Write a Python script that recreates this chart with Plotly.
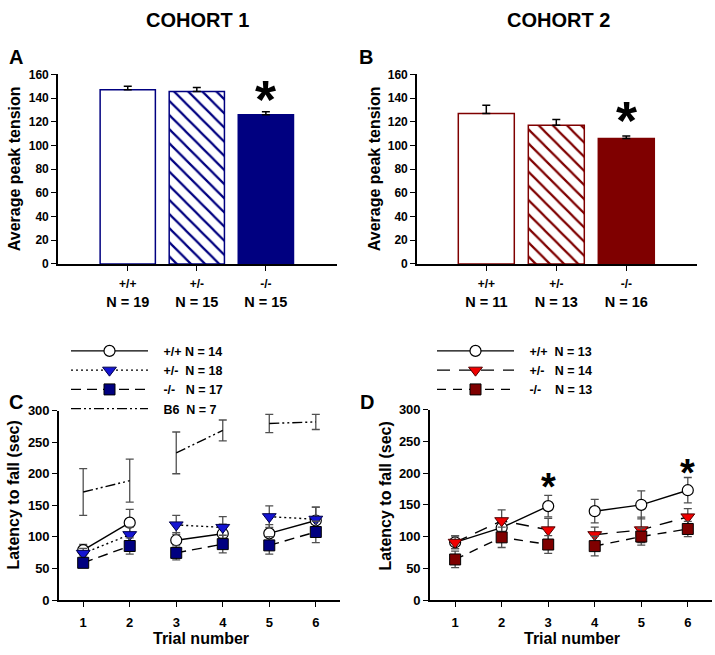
import plotly.graph_objects as go

# ---------------- data ----------------
genotypes = ["+/+", "+/-", "-/-"]
c1_n = [19, 15, 15]
c1_tension = [147, 145.5, 126]
c1_tension_err = [3, 3.5, 2.5]
c2_n = [11, 13, 16]
c2_tension = [127, 117, 106]
c2_tension_err = [7, 5, 2]

trials = [1, 2, 3, 4, 5, 6]
# Cohort 1 latency to fall (sec)
c1_wt = [79, 122.6, 94.8, 105, 105.6, 126]
c1_wt_err = [9, 21, 12, 15, 14, 21]
c1_het = [74, 103.6, 119, 115, 132, 128]
c1_het_err = [8, 12, 15, 17, 17, 19]
c1_ko = [59, 85.6, 74.7, 88.6, 86.6, 107.8]
c1_ko_err = [6, 13, 11, 14, 14, 17]
c1_b6 = [171, 189, 233, 268.5, 279.5, 282]
c1_b6_err = [37, 34, 33, 16.5, 14.5, 12]
c1_legend_n = [14, 18, 17, 7]
# Cohort 2 latency to fall (sec)
c2_wt = [91, 114, 148, 140, 150, 173]
c2_wt_err = [10, 14, 17, 18.5, 22, 20]
c2_het = [91, 125, 110.6, 103, 110.6, 131]
c2_het_err = [10, 17, 18, 12, 20, 13]
c2_ko = [64, 98.8, 87.5, 85, 100, 112]
c2_ko_err = [13, 16, 14, 15.5, 13.5, 12]
c2_legend_n = [13, 14, 13]

# significance asterisks (x position, y value)
sig_A = [(2, 143)]
sig_B = [(2, 124.5)]
sig_D = [(3, 195.6), (6, 217.6)]

# segments of connected trials (indices)
c1_segments = [[0, 1], [2, 3], [4, 5]]
c2_segments = [[0, 1, 2], [3, 4, 5]]

# ---------------- styles ----------------
W, H = 715, 655
NAVY = "#000080"
DRED = "#7f0000"
BLUE = "#1414d2"
RED = "#f00000"
ERRC = "#505050"
FONT = "Arial, Liberation Sans, sans-serif"
NB = "\u00a0"


def px(x):
    return x / W


def py(y):
    return 1 - y / H


def bfont(size):
    return dict(size=size, family=FONT, weight="bold", color="black")


fig = go.Figure()

# ---------------- bar panels ----------------
def bar_panel(vals, errs, color, xa, ya):
    fills = ["white", "white", color]
    hatch = ["", "\\", ""]
    for i in range(len(vals)):
        marker = dict(color=fills[i], line=dict(color=color, width=1.5))
        if hatch[i]:
            marker["pattern"] = dict(shape=hatch[i], fillmode="overlay", fgcolor=color,
                                     fgopacity=1, bgcolor="white", size=10, solidity=0.22)
        fig.add_trace(go.Bar(
            x=[i], y=[vals[i]], width=0.8, marker=marker,
            error_y=dict(type="data", array=[errs[i]], arrayminus=[0],
                         symmetric=False, color="black", thickness=1.5, width=4),
            xaxis=xa, yaxis=ya, showlegend=False, hoverinfo="skip"))


bar_panel(c1_tension, c1_tension_err, NAVY, "x", "y")
bar_panel(c2_tension, c2_tension_err, DRED, "x2", "y2")

# ---------------- line panels ----------------
def line_series(y, err, name, dash, mk, xa, ya, segs, legend, rank):
    for k, seg in enumerate(segs):
        fig.add_trace(go.Scatter(
            x=[trials[i] for i in seg], y=[y[i] for i in seg],
            error_y=dict(type="data", array=[err[i] for i in seg],
                         color=ERRC, thickness=1.3, width=4),
            mode="lines+markers" if mk else "lines",
            line=dict(color="black", width=1.4, dash=dash),
            marker=mk,
            name=NB * 3 + name, legendgroup=name + xa, showlegend=(k == 0),
            legendrank=rank,
            legend=legend, xaxis=xa, yaxis=ya, hoverinfo="skip"))


circ = dict(symbol="circle", size=11, color="white", line=dict(color="black", width=1.2))
tri_b = dict(symbol="triangle-down", size=12, color=BLUE, line=dict(color="#00004a", width=1))
sq_b = dict(symbol="square", size=11, color=NAVY, line=dict(color="black", width=1))
tri_r = dict(symbol="triangle-down", size=12, color=RED, line=dict(color="#500000", width=1))
sq_r = dict(symbol="square", size=11, color=DRED, line=dict(color="black", width=1))

line_series(c1_b6, c1_b6_err, "B6" + NB * 2 + "N = %d" % c1_legend_n[3],
            "10px,3px,2px,3px,2px,3px", None, "x3", "y3", c1_segments, "legend", 4)
line_series(c1_wt, c1_wt_err, "+/+ N = %d" % c1_legend_n[0], "solid", circ,
            "x3", "y3", c1_segments, "legend", 1)
line_series(c1_het, c1_het_err, "+/-" + NB * 2 + "N = %d" % c1_legend_n[1], "2px,3px", tri_b,
            "x3", "y3", c1_segments, "legend", 2)
line_series(c1_ko, c1_ko_err, "-/-" + NB * 3 + "N = %d" % c1_legend_n[2], "10px,6px", sq_b,
            "x3", "y3", c1_segments, "legend", 3)

line_series(c2_wt, c2_wt_err, "+/+" + NB * 2 + "N = %d" % c2_legend_n[0], "solid", circ,
            "x4", "y4", c2_segments, "legend2", 1)
line_series(c2_het, c2_het_err, "+/-" + NB * 3 + "N = %d" % c2_legend_n[1], "13px,9px", tri_r,
            "x4", "y4", c2_segments, "legend2", 2)
line_series(c2_ko, c2_ko_err, "-/-" + NB * 4 + "N = %d" % c2_legend_n[2], "9px,7px", sq_r,
            "x4", "y4", c2_segments, "legend2", 3)

# ---------------- axes ----------------
axis_common = dict(showline=True, linecolor="black", linewidth=1.6, ticks="outside",
                   ticklen=5, tickwidth=1.4, tickcolor="black", showgrid=False,
                   zeroline=False, fixedrange=True)

bar_ticks_1 = ["<span style='font-size:12px'>%s</span><br>N = %d" % (g, n) for g, n in zip(genotypes, c1_n)]
bar_ticks_2 = ["<span style='font-size:12px'>%s</span><br>N = %d" % (g, n) for g, n in zip(genotypes, c2_n)]

fig.update_layout(
    xaxis=dict(axis_common, domain=[px(58), px(337)], anchor="y", range=[-1.01, 3.03],
               tickvals=[0, 1, 2], ticktext=bar_ticks_1, tickfont=bfont(14.5)),
    yaxis=dict(axis_common, domain=[py(263), py(69)], anchor="x", range=[0, 160], dtick=20,
               tickfont=bfont(12)),
    xaxis2=dict(axis_common, domain=[px(417), px(697)], anchor="y2", range=[-0.99, 3.01],
                tickvals=[0, 1, 2], ticktext=bar_ticks_2, tickfont=bfont(14.5)),
    yaxis2=dict(axis_common, domain=[py(263), py(69)], anchor="x2", range=[0, 160], dtick=20,
                tickfont=bfont(12)),
    xaxis3=dict(axis_common, domain=[px(59), px(340)], anchor="y3", range=[0.48, 6.52],
                tickvals=trials, tickfont=bfont(13), ticklabelstandoff=5),
    yaxis3=dict(axis_common, domain=[py(607), py(413)], anchor="x3", range=[0, 300], dtick=50,
                tickfont=bfont(13)),
    xaxis4=dict(axis_common, domain=[px(430), px(712)], anchor="y4", range=[0.46, 6.52],
                tickvals=trials, tickfont=bfont(13), ticklabelstandoff=5),
    yaxis4=dict(axis_common, domain=[py(607), py(412)], anchor="x4", range=[0, 300], dtick=50,
                tickfont=bfont(13)),
)

# ---------------- legends ----------------
leg_common = dict(xanchor="left", yanchor="top", bgcolor="rgba(0,0,0,0)", itemwidth=77,
                  tracegroupgap=0, font=bfont(12.5),
                  traceorder="normal", itemclick=False, itemdoubleclick=False)
fig.update_layout(
    legend=dict(leg_common, x=px(66), y=py(337)),
    legend2=dict(leg_common, x=px(432), y=py(337)),
)

# ---------------- annotations ----------------
ann = []


def text(x, y, s, size, **kw):
    ann.append(dict(x=x, y=y, xref="paper", yref="paper", text=s, showarrow=False,
                    xanchor="center", yanchor="middle", font=bfont(size), **kw))


text(px(197), py(13), "COHORT 1", 20)
text(px(558), py(13), "COHORT 2", 20)
text(px(16), py(51), "A", 20)
text(px(366), py(51), "B", 20)
text(px(16), py(404), "C", 20)
text(px(367), py(404), "D", 20)
text(px(14), py(166), "Average peak tension", 16, textangle=-90)
text(px(374), py(166), "Average peak tension", 16, textangle=-90)
text(px(14), py(500), "Latency to fall (sec)", 16, textangle=-90)
text(px(386), py(500), "Latency to fall (sec)", 16, textangle=-90)
text(px(201), py(646), "Trial number", 16)
text(px(572), py(646), "Trial number", 16)


def star(xa, ya, pts, size, shift):
    for (x, y) in pts:
        ann.append(dict(x=x, y=y, xref=xa, yref=ya, text="*", showarrow=False,
                        xanchor="center", yanchor="middle", yshift=shift,
                        font=bfont(size)))


star("x", "y", sig_A, 54, -4)
star("x2", "y2", sig_B, 54, -4)
star("x4", "y4", sig_D, 38, -11)

fig.update_layout(
    annotations=ann,
    width=W, height=H, margin=dict(l=0, r=0, t=0, b=0),
    paper_bgcolor="white", plot_bgcolor="white",
    font=dict(family=FONT, weight="bold", color="black"),
    barmode="overlay", showlegend=True,
)

post = (
    "document.documentElement.style.margin='0';"
    "document.body.style.margin='0';"
    "document.documentElement.style.overflow='hidden';"
    "document.body.style.overflow='hidden';"
    "var gd=document.getElementById('{plot_id}');"
    "gd.style.position='fixed';gd.style.left='0px';gd.style.top='0px';"
)
fig.write_html("out.html", config={"displayModeBar": False}, post_script=post)
